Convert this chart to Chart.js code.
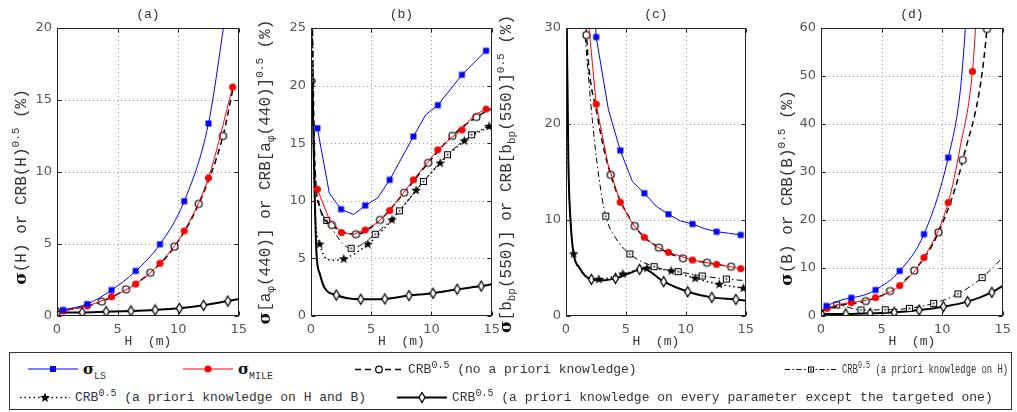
<!DOCTYPE html>
<html>
<head>
<meta charset="utf-8">
<script src="https://cdn.jsdelivr.net/npm/chart.js@4.4.1/dist/chart.umd.min.js"></script>
<style>
  body { margin: 0; background: #fff; width: 1017px; height: 412px; overflow: hidden; position: relative; }
  canvas.pane { position: absolute; top: 0; }
  #legend { position: absolute; left: 9px; top: 352px; width: 1003px; height: 58px; border: 1px solid #333; box-sizing: border-box; }
  .item { position: absolute; display: flex; align-items: center; transform: translateY(-50%);
          font: 13px 'Liberation Mono', monospace; color: #333; white-space: pre; }
  .item svg { margin-right: 5px; flex: none; }
  .sig { font: bold 15px 'DejaVu Serif', serif; color: #111; }
  .item sub, .item sup { font-size: 10px; line-height: 0; }
  .item sub { vertical-align: -5px; }
  .item sup { vertical-align: 5px; }
  .narrow { display: inline-block; transform: scaleX(0.68); transform-origin: left center; }
</style>
</head>
<body>
<canvas class="pane" id="pa"></canvas>
<canvas class="pane" id="pb"></canvas>
<canvas class="pane" id="pc"></canvas>
<canvas class="pane" id="pd"></canvas>

<div id="legend">
  <div class="item" style="left:18px;top:16px"><svg width="50" height="12"><line x1="0" y1="6" x2="50" y2="6" stroke="#0000ff" stroke-width="1"/><rect x="22" y="3" width="6" height="6" fill="#0000ff"/></svg><span><span class="sig">σ</span><sub>LS</sub></span></div>
  <div class="item" style="left:173px;top:16px"><svg width="50" height="12"><line x1="0" y1="6" x2="50" y2="6" stroke="#ff0000" stroke-width="1"/><circle cx="25" cy="6" r="3.5" fill="#ff0000"/></svg><span><span class="sig">σ</span><sub>MILE</sub></span></div>
  <div class="item" style="left:345px;top:16px"><svg width="48" height="12"><line x1="0" y1="6" x2="48" y2="6" stroke="#000" stroke-width="1.5" stroke-dasharray="6 4"/><circle cx="24" cy="6" r="3.3" fill="#fff" stroke="#000" stroke-width="1.2"/></svg><span>CRB<sup>0.5</sup> (no a priori knowledge)</span></div>
  <div class="item" style="left:775px;top:16px"><svg width="52" height="12"><line x1="0" y1="6" x2="52" y2="6" stroke="#000" stroke-width="1" stroke-dasharray="5 2.5 1.5 2.5"/><rect x="23.5" y="3.5" width="5" height="5" fill="#fff" stroke="#000" stroke-width="1"/><rect x="25" y="5" width="2" height="2" fill="#444"/></svg><span class="narrow">CRB<sup>0.5</sup> (a priori knowledge on H)</span></div>
  <div class="item" style="left:10px;top:44px"><svg width="50" height="12"><line x1="0" y1="6" x2="50" y2="6" stroke="#000" stroke-width="1.5" stroke-dasharray="1.5 3"/><path d="M25,1 L26.3,4.6 L30,4.6 L27,6.9 L28.1,10.6 L25,8.4 L21.9,10.6 L23,6.9 L20,4.6 L23.7,4.6 Z" fill="#000"/></svg><span>CRB<sup>0.5</sup> (a priori knowledge on H and B)</span></div>
  <div class="item" style="left:387px;top:44px"><svg width="50" height="12"><line x1="0" y1="6" x2="50" y2="6" stroke="#000" stroke-width="2"/><path d="M25,1 L28,6 L25,11 L22,6 Z" fill="#fff" stroke="#000" stroke-width="1.3"/></svg><span>CRB<sup>0.5</sup> (a priori knowledge on every parameter except the targeted one)</span></div>
</div>

<script>
// tick labels
const xTicks = [0, 5, 10, 15];
const aTicks = [0, 5, 10, 15, 20];
const bTicks = [0, 5, 10, 15, 20, 25];
const cTicks = [0, 10, 20, 30];
const dTicks = [0, 10, 20, 30, 40, 50, 60];

// (a) sigma(H): marked points, plus unmarked line vertices
const aLS = [[0.5,0.42],[2.5,0.83],[4.5,1.8],[6.5,3.13],[8.5,4.98],[10.5,7.97],[12.5,13.37]];
const aLSpath = [[14.0,21.5]];
const aMILE = [[0.5,0.35],[2.5,0.7],[4.5,1.34],[6.5,2.22],[8.5,3.66],[10.5,5.91],[12.5,9.59],[14.5,15.9]];
const aCRB0 = [[3.7,1.0],[5.7,1.85],[7.7,3.0],[9.7,4.82],[11.7,7.79],[13.7,12.5]];
const aCRB0path = [[0.05,0.3],[14.6,16.1]];
const aCRBall = [[0.05,0.25],[2.07,0.25],[4.05,0.3],[6.1,0.35],[8.1,0.42],[10.1,0.53],[12.1,0.74],[14.1,1.04]];
const aCRBallpath = [[15,1.18]];

// (b) sigma[a_phi(440)]
const bLS = [[0.53,16.3],[2.5,9.27],[4.5,9.59],[6.53,11.82],[8.5,15.58],[10.53,18.3],[12.53,20.94],[14.53,23.03]];
const bLSpath = [[1.52,10.66],[3.52,8.8],[5.52,10.23],[9.52,17.47]];
const bMILE = [[0.53,11.0],[2.53,7.24],[4.5,7.47],[6.53,9.15],[8.5,11.82],[10.53,14.43],[12.53,16.16],[14.53,17.96]];
const bMILEpath = [[1.5,8.45],[3.5,7.08],[5.5,8.1],[7.5,10.45],[9.5,13.1],[11.5,15.35],[13.5,17.4]];
const bCRB0 = [[1.73,7.9],[3.73,7.1],[5.73,8.34],[7.73,10.7],[9.73,13.3],[11.73,15.64],[13.73,17.27]];
const bCRB0path = [[0.05,30],[0.3,14],[0.7,9.6],[15,18.0]];
const bCRBH = [[1.3,8.3],[3.33,5.88],[5.33,7.1],[7.33,9.13],[9.33,11.67],[11.33,14.0],[13.33,15.73]];
const bCRBHpath = [[0.05,30],[0.3,13],[0.7,9.5],[15,16.6]];
const bCRBHB = [[0.72,6.23],[2.72,4.95],[4.72,6.23],[6.72,8.34],[8.72,10.9],[10.72,13.27],[12.72,15.2],[14.77,16.45]];
const bCRBHBpath = [[0.05,30],[0.3,10],[1.3,4.95],[2.0,4.85],[15,16.6]];
const bCRBall = [[0.1,20.4],[2.1,1.82],[4.13,1.45],[6.13,1.48],[8.13,1.77],[10.13,1.97],[12.13,2.32],[14.13,2.6]];
const bCRBallpath = [[0.45,5.5],[0.72,3.7],[1.1,2.5],[15,2.75]];

// (c) sigma[b_bp(550)]
const cLS = [[2.52,29.06],[4.53,17.24],[6.54,12.79],[8.55,10.6],[10.56,9.58],[12.57,8.78],[14.58,8.44]];
const cLSpath = [[2.3,34],[3.54,21.5],[5.55,14.0],[7.56,11.4],[9.57,9.9],[11.57,9.1],[13.58,8.62]];
const cMILE = [[2.52,22.07],[4.53,11.85],[6.54,8.2],[8.55,6.63],[10.56,5.83],[12.57,5.38],[14.58,4.93]];
const cMILEpath = [[1.85,31],[3.5,15.8],[5.5,9.7],[7.5,7.25]];
const cCRB0 = [[1.71,29.27],[3.73,14.7],[5.74,9.37],[7.75,7.12],[9.76,6.01],[11.77,5.55],[13.78,5.14]];
const cCRB0path = [[1.6,33],[2.6,21],[15,4.95]];
const cCRBH = [[3.32,10.4],[5.33,6.46],[7.35,5.14],[9.36,4.62],[11.37,4.17],[13.38,3.85]];
const cCRBHpath = [[1.5,30.5],[2.2,20.4],[2.74,14.5],[4.1,8.2],[15,3.68]];
const cCRBHB = [[0.64,6.46],[2.74,3.82],[4.75,4.37],[6.76,4.97],[8.77,4.69],[10.78,3.92],[12.79,3.3],[14.8,2.88]];
const cCRBHBpath = [[0.05,32],[0.2,16],[0.4,9.5],[1.13,5.0],[1.8,4.0],[15,2.8]];
const cCRBall = [[2.12,3.82],[4.13,3.92],[6.14,4.86],[8.15,3.58],[10.16,2.53],[12.17,1.94],[14.18,1.73]];
const cCRBallpath = [[0.05,32],[0.2,16],[0.4,9.5],[0.64,6.46],[1.13,5.0],[1.6,4.2],[3.0,3.7],[6.4,4.95],[15,1.6]];

// (d) sigma(B)
const dLS = [[0.45,2.09],[2.5,3.8],[4.5,5.42],[6.5,9.39],[8.5,17.04],[10.5,33.0]];
const dLSpath = [[1.5,3.2],[3.5,4.3],[11.5,47],[12.1,66]];
const dMILE = [[0.5,1.6],[2.5,2.78],[4.5,3.82],[6.5,6.33],[8.5,12.17],[10.5,23.64],[12.5,50.97]];
const dMILEpath = [[1.5,2.4],[11.5,35.3],[13.0,70]];
const dCRB0 = [[3.7,3.1],[5.7,5.2],[7.7,9.46],[9.7,17.45],[11.7,32.5],[13.7,59.8]];
const dCRB0path = [[0.05,1.0],[1.7,2.3],[14.0,72]];
const dCRBH = [[1.3,2.3],[3.3,1.25],[5.3,1.3],[7.3,1.6],[9.3,2.64],[11.3,4.6],[13.3,8.0]];
const dCRBHpath = [[0.05,1.0],[15,12.17]];
const dCRBall = [[0.05,0.42],[2.05,0.42],[4.05,0.56],[6.05,0.76],[8.1,1.25],[10.1,1.95],[12.1,3.0],[14.1,4.94]];
const dCRBallpath = [[15,6.26]];

// marker images
function marker(kind) {
  const c = document.createElement('canvas');
  c.width = 13; c.height = 13;
  const g = c.getContext('2d');
  g.translate(6.5, 6.5);
  if (kind === 'bsq') { g.fillStyle = '#0000ff'; g.fillRect(-3, -3, 6, 6); }
  if (kind === 'rci') { g.fillStyle = '#ff0000'; g.beginPath(); g.arc(0, 0, 3.6, 0, 2 * Math.PI); g.fill(); }
  if (kind === 'oci') { g.fillStyle = '#fff'; g.strokeStyle = '#000'; g.lineWidth = 1.2; g.beginPath(); g.arc(0, 0, 3.5, 0, 2 * Math.PI); g.fill(); g.stroke(); }
  if (kind === 'osq') { g.fillStyle = '#fff'; g.strokeStyle = '#000'; g.lineWidth = 1; g.fillRect(-3, -3, 6, 6); g.strokeRect(-3, -3, 6, 6); g.fillStyle = '#444'; g.fillRect(-1, -1, 2, 2); }
  if (kind === 'star') {
    g.fillStyle = '#000'; g.beginPath();
    for (let i = 0; i < 10; i++) {
      const r = i % 2 ? 2.1 : 5.2, a = -Math.PI / 2 + i * Math.PI / 5;
      g.lineTo(r * Math.cos(a), r * Math.sin(a));
    }
    g.closePath(); g.fill();
  }
  if (kind === 'dia') { g.fillStyle = '#fff'; g.strokeStyle = '#000'; g.lineWidth = 1.3; g.beginPath(); g.moveTo(0, -5); g.lineTo(3, 0); g.lineTo(0, 5); g.lineTo(-3, 0); g.closePath(); g.fill(); g.stroke(); }
  return c;
}

const ST = {
  ls:    { color: '#0000ff', width: 1,   dash: [],            marker: marker('bsq') },
  mile:  { color: '#ff0000', width: 1,   dash: [],            marker: marker('rci') },
  crb0:  { color: '#000',    width: 1.5, dash: [6, 4],        marker: marker('oci') },
  crbH:  { color: '#000',    width: 1,   dash: [6, 3, 1.5, 3], marker: marker('osq') },
  crbHB: { color: '#000',    width: 1.5, dash: [1.5, 3],      marker: marker('star') },
  crbAll:{ color: '#000',    width: 2,   dash: [],            marker: marker('dia') }
};

function pts(marks, path) {
  const p = marks.map(v => ({ x: v[0], y: v[1], m: true }))
    .concat((path || []).map(v => ({ x: v[0], y: v[1], m: false })));
  return p.sort((a, b) => a.x - b.x);
}

function ds(st, marks, path, smooth) {
  return {
    data: pts(marks, path),
    borderColor: st.color, borderWidth: st.width, borderDash: st.dash,
    tension: 0, cubicInterpolationMode: smooth ? 'monotone' : 'default',
    pointStyle: st.marker, pointRadius: c => (c.raw && c.raw.m ? 4 : 0),
    fill: false
  };
}

// rich text helper (sub/superscripts)
const F = {
  main: "16px 'Liberation Mono', monospace",
  sig:  "bold 17px 'DejaVu Serif', serif",
  small:"11px 'Liberation Mono', monospace",
  tit:  "13px 'Liberation Mono', monospace"
};
const M = t => ({ t, f: F.main });
const S = () => ({ t: 'σ', f: F.sig, c: '#111' });
const SUP = t => ({ t, f: F.small, dy: -6 });
const SUB = t => ({ t, f: F.small, dy: 5 });

function rich(ctx, segs, cx, cy, rot) {
  ctx.save();
  ctx.translate(cx, cy);
  if (rot) ctx.rotate(-Math.PI / 2);
  ctx.textBaseline = 'middle'; ctx.textAlign = 'left';
  let w = 0;
  segs.forEach(s => { ctx.font = s.f; s.w = ctx.measureText(s.t).width; w += s.w; });
  let x = -w / 2;
  segs.forEach(s => { ctx.font = s.f; ctx.fillStyle = s.c || '#333'; ctx.fillText(s.t, x, s.dy || 0); x += s.w; });
  ctx.restore();
}

const matlabBox = {
  id: 'matlabBox',
  beforeDatasetsDraw(chart, args, o) {
    const { ctx, chartArea: a, scales: { x, y } } = chart;
    ctx.save();
    ctx.strokeStyle = '#a0a0a0'; ctx.lineWidth = 1; ctx.setLineDash([1, 3]);
    xTicks.slice(1, -1).forEach(v => {
      const px = Math.round(x.getPixelForValue(v)) + 0.5;
      ctx.beginPath(); ctx.moveTo(px, a.top); ctx.lineTo(px, a.bottom); ctx.stroke();
    });
    o.yTicks.slice(1, -1).forEach(v => {
      const py = Math.round(y.getPixelForValue(v)) + 0.5;
      ctx.beginPath(); ctx.moveTo(a.left, py); ctx.lineTo(a.right, py); ctx.stroke();
    });
    ctx.restore();
  },
  afterDraw(chart, args, o) {
    const { ctx, chartArea: a, scales: { x, y } } = chart;
    ctx.save();
    ctx.strokeStyle = '#222'; ctx.lineWidth = 1;
    const L = Math.round(a.left) + 0.5, R = Math.round(a.right) - 0.5;
    const T = Math.round(a.top) + 0.5, B = Math.round(a.bottom) - 0.5;
    ctx.strokeRect(L, T, R - L, B - T);
    ctx.beginPath();
    xTicks.forEach(v => {
      const px = Math.round(x.getPixelForValue(v)) + 0.5;
      ctx.moveTo(px, B); ctx.lineTo(px, B - 4);
      ctx.moveTo(px, T); ctx.lineTo(px, T + 4);
    });
    o.yTicks.forEach(v => {
      const py = Math.round(y.getPixelForValue(v)) + 0.5;
      ctx.moveTo(L, py); ctx.lineTo(L + 4, py);
      ctx.moveTo(R, py); ctx.lineTo(R - 4, py);
    });
    ctx.stroke();
    ctx.restore();
    const mx = (a.left + a.right) / 2;
    rich(ctx, [{ t: o.title, f: F.tit }], mx, 15, false);
    rich(ctx, [{ t: 'H  (m)', f: F.tit }], mx, 342, false);
    rich(ctx, o.ylab, o.labX, o.labY, true);
  }
};

const panels = [
  { id: 'pa', left: 0,   l: 57,  r: 245,  ymax: 20, yTicks: aTicks, title: '(a)', labX: 22,  labY: 187,
    ylab: [S(), M('(H) or CRB(H)'), SUP('0.5'), M(' (%)')],
    sets: [ds(ST.ls, aLS, aLSpath, true), ds(ST.mile, aMILE, null, true),
           ds(ST.crb0, aCRB0, aCRB0path, true), ds(ST.crbAll, aCRBall, aCRBallpath, true)] },
  { id: 'pb', left: 245, l: 311, r: 498,  ymax: 25, yTicks: bTicks, title: '(b)', labX: 266, labY: 172,
    ylab: [S(), M('[a'), SUB('φ'), M('(440)] or CRB[a'), SUB('φ'), M('(440)]'), SUP('0.5'), M(' (%)')],
    sets: [ds(ST.ls, bLS, bLSpath, false), ds(ST.mile, bMILE, bMILEpath, false),
           ds(ST.crb0, bCRB0, bCRB0path, true), ds(ST.crbH, bCRBH, bCRBHpath, true),
           ds(ST.crbHB, bCRBHB, bCRBHBpath, true), ds(ST.crbAll, bCRBall, bCRBallpath, true)] },
  { id: 'pc', left: 490, l: 566, r: 752,  ymax: 30, yTicks: cTicks, title: '(c)', labX: 507, labY: 174,
    ylab: [S(), M('[b'), SUB('bp'), M('(550)] or CRB[b'), SUB('bp'), M('(550)]'), SUP('0.5'), M(' (%)')],
    sets: [ds(ST.ls, cLS, cLSpath, false), ds(ST.mile, cMILE, cMILEpath, false),
           ds(ST.crb0, cCRB0, cCRB0path, true), ds(ST.crbH, cCRBH, cCRBHpath, true),
           ds(ST.crbHB, cCRBHB, cCRBHBpath, true), ds(ST.crbAll, cCRBall, cCRBallpath, true)] },
  { id: 'pd', left: 760, l: 821, r: 1009, ymax: 60, yTicks: dTicks, title: '(d)', labX: 788, labY: 188,
    ylab: [S(), M('(B) or CRB(B)'), SUP('0.5'), M(' (%)')],
    sets: [ds(ST.ls, dLS, dLSpath, true), ds(ST.mile, dMILE, dMILEpath, true),
           ds(ST.crb0, dCRB0, dCRB0path, true), ds(ST.crbH, dCRBH, dCRBHpath, true),
           ds(ST.crbAll, dCRBall, dCRBallpath, true)] }
];

const tickFont = { family: "'DejaVu Sans', sans-serif", size: 13 };

panels.forEach(p => {
  const cv = document.getElementById(p.id);
  const W = p.r - p.left + 8;
  cv.width = W; cv.height = 350;
  cv.style.left = p.left + 'px';
  new Chart(cv, {
    type: 'line',
    data: { datasets: p.sets },
    options: {
      responsive: false, animation: false, events: [],
      layout: { padding: { top: 28, right: 8, left: 0, bottom: 0 } },
      plugins: {
        legend: { display: false }, tooltip: { enabled: false },
        matlabBox: { yTicks: p.yTicks, title: p.title, ylab: p.ylab, labX: p.labX - p.left, labY: p.labY }
      },
      scales: {
        x: {
          type: 'linear', min: 0, max: 15,
          grid: { display: false, drawTicks: false }, border: { display: false },
          afterBuildTicks: s => { s.ticks = xTicks.map(v => ({ value: v })); },
          afterFit: s => { s.height = 34; },
          ticks: { font: tickFont, color: '#555', padding: 6, maxRotation: 0, autoSkip: false }
        },
        y: {
          type: 'linear', min: 0, max: p.ymax,
          grid: { display: false, drawTicks: false }, border: { display: false },
          afterBuildTicks: s => { s.ticks = p.yTicks.map(v => ({ value: v })); },
          afterFit: s => { s.width = p.l - p.left; },
          ticks: { font: tickFont, color: '#555', padding: 5, autoSkip: false }
        }
      }
    },
    plugins: [matlabBox]
  });
});
</script>
</body>
</html>
